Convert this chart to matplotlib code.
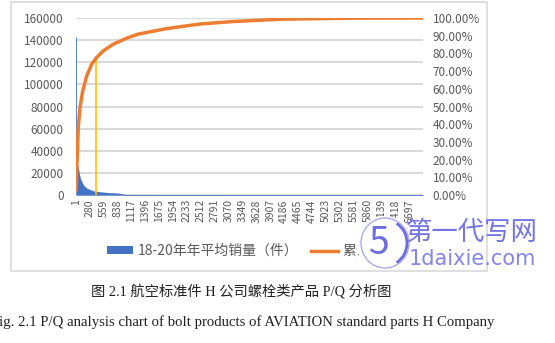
"""Bolt products P/Q (Pareto) chart: per-item sales bars + cumulative share line."""

import matplotlib

matplotlib.use("Agg")
import matplotlib.pyplot as plt
from matplotlib.lines import Line2D
from matplotlib.patches import Arc, Ellipse, Patch, Rectangle
from matplotlib.ticker import FuncFormatter, MultipleLocator

plt.rcParams["font.family"] = ["Noto Sans CJK SC", "DejaVu Sans"]

# values
ITEM_COUNT = 6980
TICK_ITEMS = list(range(1, 6698, 279))

SALES_RANK = [1, 3, 10, 25, 46, 80, 147, 215, 348, 549, 750, 900, 1000, 1500, 3000, 6980]
SALES = [143000, 85000, 40000, 28000, 24000, 15400, 9000, 6000, 3600, 2400,
         1800, 1300, 300, 100, 30, 1]

CUM_RANK = [1, 26, 46, 80, 135, 215, 316, 416, 549, 750, 1020, 1253, 1824,
            2494, 3158, 4104, 5512, 6980]
CUM_SHARE = [0.02, 0.227, 0.379, 0.492, 0.587, 0.672, 0.739, 0.777, 0.814,
             0.852, 0.886, 0.909, 0.94, 0.966, 0.98, 0.993, 0.999, 1.0]

PARETO_RANK = 400
PARETO_SHARE = 0.765

SALES_LABEL = "18-20年年平均销量（件）"
CUM_LABEL = "累计百分比"
TITLE_CN = "图 2.1 航空标准件 H 公司螺栓类产品 P/Q 分析图"
TITLE_EN = "Fig. 2.1 P/Q analysis chart of bolt products of AVIATION standard parts H Company"

BLUE = "#4472C4"
ORANGE = "#ED7D31"
GOLD = "#FFC000"
GRID = "#D9D9D9"
TEXT = "#595959"
MARK = "#6E6EDC"
W, H = 555, 343

fig = plt.figure(figsize=(W / 100, H / 100), dpi=100)

# chart frame (Excel chart area)
fig.patches.append(Rectangle((11 / W, 1 - 271 / H), (487 - 11) / W, (271 - 2) / H,
                             transform=fig.transFigure, fill=False,
                             edgecolor=GRID, linewidth=1.2))

ax = fig.add_axes([76 / W, 1 - 195 / H, (423 - 76) / W, (195 - 18) / H])
ax.fill_between(SALES_RANK, SALES, 0, color=BLUE, linewidth=0.3, zorder=2)
ax.set_xlim(0.5, ITEM_COUNT + 0.5)
ax.set_ylim(0, 160000)
ax.yaxis.set_major_locator(MultipleLocator(20000))
ax.grid(axis="y", color=GRID, linewidth=1.4, zorder=0)
ax.set_axisbelow(True)
for s in ax.spines.values():
    s.set_visible(False)
ax.set_xticks(TICK_ITEMS)
ax.set_xticklabels([str(t) for t in TICK_ITEMS], rotation=90, fontsize=7.5, color=TEXT)
ax.tick_params(axis="y", labelsize=8.5, colors=TEXT, length=0, pad=9)
ax.tick_params(axis="x", length=0, pad=3)

ax2 = ax.twinx()
ax2.vlines(PARETO_RANK, 0, PARETO_SHARE, color=GOLD, linewidth=1.2, zorder=2)
ax2.plot(CUM_RANK, CUM_SHARE, color=ORANGE, linewidth=2.5,
         solid_capstyle="butt", zorder=3)
ax2.set_ylim(0, 1)
ax2.yaxis.set_major_locator(MultipleLocator(0.1))
ax2.yaxis.set_major_formatter(FuncFormatter(lambda v, _: f"{v * 100:.2f}%"))
ax2.tick_params(axis="y", labelsize=8.5, colors=TEXT, length=0, pad=7)
for s in ax2.spines.values():
    s.set_visible(False)

handles = [Patch(facecolor=BLUE, edgecolor="none"),
           Line2D([], [], color=ORANGE, linewidth=2.5)]
leg = fig.legend(handles, [SALES_LABEL, CUM_LABEL], loc="center left",
                 bbox_to_anchor=(107 / W, 1 - 251 / H), ncol=2, frameon=False,
                 fontsize=10, labelcolor=TEXT, handlelength=1.9, handleheight=0.42,
                 handletextpad=0.3, columnspacing=0.95, borderpad=0.0,
                 borderaxespad=0.0)
leg.set_zorder(1)

# watermark in the lower right corner (its white disc hides part of the legend)
cx, cy = 385 / W, 1 - 243 / H
fig.patches.append(Ellipse((cx, cy), 58 / W, 54 / H, transform=fig.transFigure,
                           facecolor="white", edgecolor="none", zorder=5))
fig.patches.append(Ellipse((cx, cy), 48 / W, 50 / H, transform=fig.transFigure,
                           fill=False, edgecolor="#A9A9EE",
                           linewidth=1.0, zorder=5))
fig.patches.append(Arc((cx, cy), 44 / W, 46 / H, theta1=-70, theta2=70,
                       transform=fig.transFigure, edgecolor=MARK,
                       linewidth=2.0, zorder=6))
fig.text(378 / W, 1 - 244 / H, "5", fontsize=27, style="italic", color=MARK,
         ha="center", va="center", zorder=6)
fig.text(472 / W, 1 - 232 / H, "第一代写网", fontsize=19, color="#7474E2",
         ha="center", va="center", zorder=6)
fig.text(472 / W, 1 - 259 / H, "1daixie.com", fontsize=15, color="#8585E6",
         ha="center", va="center", zorder=6, family=["DejaVu Sans"])

serif = ["Liberation Serif", "Noto Sans CJK SC"]
fig.text(241 / W, 1 - 292 / H, TITLE_CN, fontsize=10.3, color="#222222",
         ha="center", va="center", family=serif)
fig.text(243 / W, 1 - 322 / H, TITLE_EN, fontsize=10.6, color="#222222",
         ha="center", va="center", family=serif)

fig.savefig("out.png", dpi=100)
